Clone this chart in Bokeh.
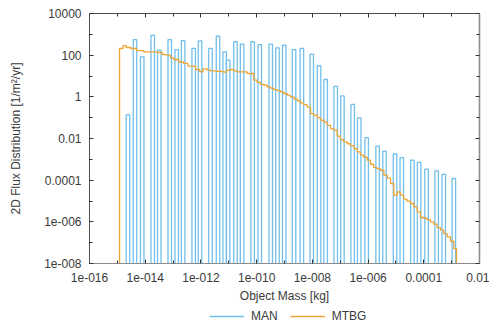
from bokeh.plotting import figure
from bokeh.layouts import column
from bokeh.models import Range1d, FixedTicker, LogAxis, Legend, LegendItem, ColumnDataSource
from bokeh.embed import file_html
from bokeh.resources import INLINE

# ---- axis ticks ----
x_major = [1e-16, 1e-14, 1e-12, 1e-10, 1e-8, 1e-6, 1e-4, 1e-2]
x_major_labels = ["1e-016", "1e-014", "1e-012", "1e-010", "1e-008", "1e-006", "0.0001", "0.01"]
x_minor = [1e-15, 1e-13, 1e-11, 1e-9, 1e-7, 1e-5, 1e-3]
y_major = [1e-8, 1e-6, 1e-4, 1e-2, 1, 100, 10000]
y_major_labels = ["1e-008", "1e-006", "0.0001", "0.01", "1", "100", "10000"]
y_minor = [1e-7, 1e-5, 1e-3, 0.1, 10, 1000]

# ---- MAN (histogram bars) ----
man_mass = [2.4e-15, 4.3e-15, 7.8e-15, 1.86e-14, 3.2e-14, 7.6e-14, 1.35e-13, 2.3e-13,
            5.5e-13, 9.3e-13, 2.2e-12, 4.1e-12, 7.1e-12, 9.5e-12, 1.74e-11, 3.0e-11,
            7.2e-11, 1.29e-10, 3.2e-10, 5.6e-10, 9.8e-10, 2.2e-9, 4.2e-9, 9.5e-9,
            1.74e-8, 3.0e-8, 6.9e-8, 1.2e-7, 2.8e-7, 4.8e-7, 8.9e-7, 2.2e-6,
            3.9e-6, 9.3e-6, 1.62e-5, 3.9e-5, 6.8e-5, 1.26e-4, 2.9e-4, 5.2e-4, 1.2e-3]
man_flux = [0.14, 560, 83, 910, 175, 560, 185, 500,
            210, 480, 210, 810, 145, 58, 440, 340,
            440, 320, 340, 225, 300, 185, 210, 112,
            31, 6.8, 3.2, 1.1, 0.43, 0.098, 0.011, 0.0043,
            0.0025, 0.0018, 0.0012, 0.00091, 0.00071, 0.00034, 0.00028, 0.00019, 0.00012]

# ---- MTBG (step line): bin edges and bin values ----
mtbg_edges = [1.2e-15, 1.6e-15, 2.1e-15, 3.0e-15, 4.9e-15, 8.9e-15, 2.7e-14, 4.1e-14,
              5.8e-14, 8.1e-14, 1.06e-13, 1.6e-13, 2.4e-13, 3.4e-13, 6.4e-13, 9.1e-13,
              1.17e-12, 1.7e-12, 2.2e-12, 3.8e-12, 6.3e-12, 8.3e-12, 1.15e-11, 1.5e-11,
              2.0e-11, 4.6e-11, 7.9e-11, 1.04e-10, 1.37e-10, 1.8e-10, 2.4e-10, 3.1e-10,
              4.1e-10, 5.5e-10, 7.2e-10, 9.4e-10, 1.25e-9, 1.6e-9, 2.2e-9, 2.9e-9,
              3.7e-9, 4.9e-9, 6.5e-9, 8.6e-9, 1.12e-8, 1.5e-8, 1.95e-8, 2.6e-8,
              3.4e-8, 4.5e-8, 5.9e-8, 7.8e-8, 1.02e-7, 1.34e-7, 1.78e-7, 2.3e-7,
              3.1e-7, 4.1e-7, 5.3e-7, 7.0e-7, 9.3e-7, 1.22e-6, 1.6e-6, 2.1e-6,
              2.8e-6, 3.7e-6, 4.9e-6, 6.4e-6, 8.4e-6, 1.11e-5, 1.46e-5, 1.9e-5,
              2.5e-5, 3.3e-5, 4.4e-5, 5.8e-5, 7.6e-5, 1.0e-4, 1.32e-4, 1.74e-4,
              2.3e-4, 3.0e-4, 4.0e-4, 5.2e-4, 6.9e-4, 9.1e-4, 1.2e-3, 1.49e-3]
mtbg_flux = [209, 290, 233, 209, 167, 144, 134, 107, 100, 74,
             62, 47, 40, 30, 20.5, 15.7, 21.9, 19, 17.5, 16.5,
             15.2, 19, 20.5, 17.5, 15.7, 13.2, 6.3, 4.9, 4.0, 3.6,
             3.0, 2.6, 2.2, 1.97, 1.72, 1.44, 1.2, 1.0, 0.77, 0.65,
             0.51, 0.42, 0.32, 0.158, 0.131, 0.100, 0.076, 0.061, 0.043, 0.030,
             0.025, 0.0129, 0.0089, 0.0069, 0.0056, 0.0045, 0.0033, 0.0023, 0.0016, 0.00126,
             0.00091, 0.00058, 0.00040, 0.00035, 0.00030, 0.000173, 0.000124, 6.9e-5, 1.9e-5, 2.7e-5,
             1.9e-5, 1.22e-5, 9.8e-6, 7.6e-6, 5.2e-6, 3.0e-6, 1.61e-6, 1.49e-6, 1.29e-6, 9.9e-7,
             7.7e-7, 5.3e-7, 4.0e-7, 2.7e-7, 1.88e-7, 1.17e-7, 5.2e-8]

series_names = ["MAN", "MTBG"]

FONT = "Liberation Sans"
TXT = "#3a3a3a"
BLUE = "#72bfea"
ORANGE = "#eea534"
FLOOR = 1e-10      # below the visible range; clipped by the frame
BAR_HALF = 1.156   # multiplicative half-width of a bar on the log axis

p = figure(width=489, height=305, x_axis_type="log", y_axis_type="log",
           x_range=Range1d(1e-16, 1e-2), y_range=Range1d(1e-8, 1e4),
           output_backend="svg", toolbar_location=None,
           min_border_left=89, min_border_right=10, min_border_top=13, min_border_bottom=41)
p.background_fill_color = "white"
p.border_fill_color = "white"
p.outline_line_color = None
p.xgrid.visible = False
p.ygrid.visible = False

bars = ColumnDataSource(dict(
    left=[m / BAR_HALF for m in man_mass],
    right=[m * BAR_HALF for m in man_mass],
    top=man_flux,
    bottom=[FLOOR] * len(man_mass)))
p.quad(left="left", right="right", top="top", bottom="bottom", source=bars,
       fill_color=None, line_color=BLUE, line_width=1.3)

step_x = [mtbg_edges[0]] + mtbg_edges
step_y = [FLOOR] + mtbg_flux + [FLOOR]
p.step(step_x, step_y, mode="after", line_color=ORANGE, line_width=1.3)

def style_axis(ax, ticker, labels_map, show_labels):
    ax.ticker = ticker
    ax.major_tick_in = 4
    ax.major_tick_out = 0
    ax.minor_tick_in = 3
    ax.minor_tick_out = 0
    ax.major_tick_line_color = "#333333"
    ax.minor_tick_line_color = "#333333"
    if show_labels:
        ax.major_label_overrides = labels_map
        ax.major_label_text_font = FONT
        ax.major_label_text_font_size = "12px"
        ax.major_label_text_color = TXT
        ax.axis_label_text_font = FONT
        ax.axis_label_text_font_size = "12px"
        ax.axis_label_text_font_style = "normal"
        ax.axis_label_text_color = TXT
    else:
        ax.major_label_text_font_size = "2px"
        ax.major_label_text_alpha = 0
        ax.major_label_standoff = 0

xt = FixedTicker(ticks=x_major, minor_ticks=x_minor)
yt = FixedTicker(ticks=y_major, minor_ticks=y_minor)
xmap = {v: s for v, s in zip(x_major, x_major_labels)}
ymap = {v: s for v, s in zip(y_major, y_major_labels)}

xa = p.xaxis[0]
style_axis(xa, xt, xmap, True)
xa.axis_label = "Object Mass [kg]"
xa.major_label_standoff = 9
xa.axis_label_standoff = 4
xa.axis_line_color = "#8c8c8c"

ya = p.yaxis[0]
style_axis(ya, yt, ymap, True)
ya.axis_label = "2D Flux Distribution [1/m\u00b2/yr]"
ya.major_label_standoff = 8
ya.axis_label_standoff = 18
ya.axis_line_color = "#4d4d4d"

top_ax = LogAxis()
style_axis(top_ax, xt, None, False)
top_ax.axis_line_color = "#4d4d4d"
p.add_layout(top_ax, "above")

right_ax = LogAxis()
style_axis(right_ax, yt, None, False)
right_ax.axis_line_color = "#8c8c8c"
right_ax.axis_line_width = 1.6
p.add_layout(right_ax, "right")

# ---- legend strip below the chart ----
lg = figure(width=489, height=22, x_range=Range1d(0, 1), y_range=Range1d(0, 1),
            output_backend="svg", toolbar_location=None,
            min_border_left=0, min_border_right=0, min_border_top=0, min_border_bottom=0)
lg.axis.visible = False
lg.grid.visible = False
lg.outline_line_color = None
lg.background_fill_color = "white"
lg.border_fill_color = "white"
# legend-only samples, placed outside the strip's visible range
r_man = lg.line([5, 6], [5, 5], line_color=BLUE, line_width=1.3)
r_mtbg = lg.line([5, 6], [5, 5], line_color=ORANGE, line_width=1.3)
legend = Legend(items=[LegendItem(label=series_names[0], renderers=[r_man]),
                       LegendItem(label=series_names[1], renderers=[r_mtbg])],
                orientation="horizontal", location=(120, 4),
                label_text_font=FONT, label_text_font_size="12px", label_text_color=TXT,
                glyph_width=35, glyph_height=12, label_height=12, label_standoff=7,
                spacing=12, padding=0, margin=0,
                border_line_color=None, background_fill_alpha=0)
lg.add_layout(legend, "center")

layout = column(p, lg, spacing=0)
open("out.html", "w").write(file_html(layout, INLINE))
